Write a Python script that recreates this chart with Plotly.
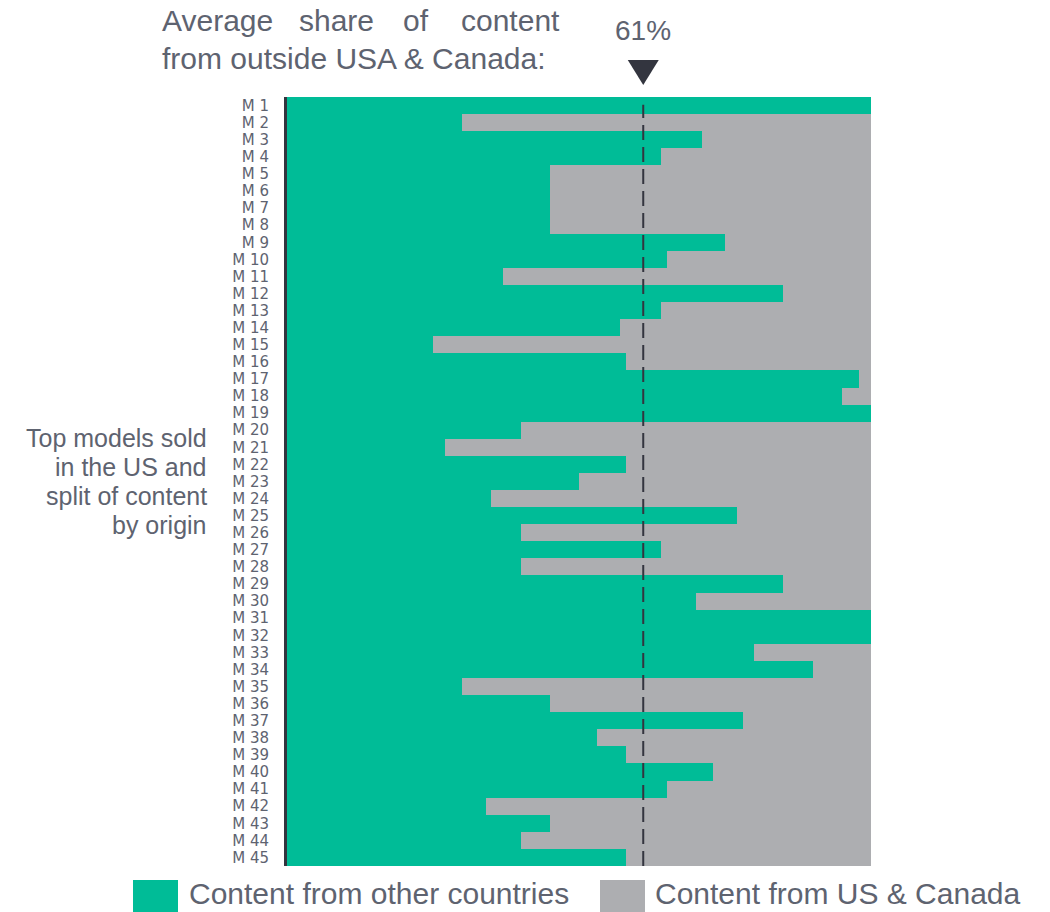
import plotly.graph_objects as go

models = [f"M {i}" for i in range(1, 46)]
other_share = [100, 30, 71, 64, 45, 45, 45, 45, 75, 65,
               37, 85, 64, 57, 25, 58, 98, 95, 100, 40,
               27, 58, 50, 35, 77, 40, 64, 40, 85, 70,
               100, 100, 80, 90, 30, 45, 78, 53, 58, 73,
               65, 34, 45, 40, 58]
us_share = [100 - v for v in other_share]
avg_share = 61

GREEN = "#00BC97"
GREY = "#ADAEB1"
DARK = "#33353F"
TEXT = "#5E6370"
FONT = "Liberation Sans, Arial, sans-serif"

fig = go.Figure()
fig.add_trace(go.Bar(y=models, x=other_share, orientation="h", name="Content from other countries",
                     marker=dict(color=GREEN, line=dict(width=0)), showlegend=False))
fig.add_trace(go.Bar(y=models, x=us_share, orientation="h", name="Content from US & Canada",
                     marker=dict(color=GREY, line=dict(width=0)), showlegend=False))

W, H = 1050, 912
L, R, T, B = 287, 1050 - 871, 97, 912 - 866
pw, ph = W - L - R, H - T - B


def px(x):
    return (x - L) / pw


def py(y):
    return (H - B - y) / ph


fig.update_layout(
    width=W, height=H,
    margin=dict(l=L, r=R, t=T, b=B),
    barmode="stack", bargap=0,
    plot_bgcolor="white", paper_bgcolor="white",
    font=dict(family=FONT, color=TEXT),
    xaxis=dict(range=[0, 100], showticklabels=False, showgrid=False, zeroline=False, showline=False),
    yaxis=dict(categoryorder="array", categoryarray=models, autorange="reversed",
               tickmode="array", tickvals=models, ticktext=models,
               showgrid=False, zeroline=False, showline=True, linecolor=DARK, linewidth=3,
               ticks="", ticklabelstandoff=12,
               tickfont=dict(size=15, color=TEXT, family="DejaVu Sans, sans-serif")),
)

# average line
fig.add_shape(type="line", xref="x", yref="paper", x0=avg_share, x1=avg_share, y0=0, y1=0.99,
              line=dict(color=DARK, width=2, dash="15px,7px"))
# triangle marker
fig.add_shape(type="path", xref="x", yref="paper",
              path=f"M {avg_share-2.65},{py(60)} L {avg_share+2.65},{py(60)} L {avg_share},{py(85)} Z",
              fillcolor=DARK, line=dict(width=0))

ann = []
ann.append(dict(x=avg_share, xref="x", y=py(30), yref="paper", text="61%", showarrow=False,
                font=dict(size=28, color=TEXT), xanchor="center", yanchor="middle"))
# justified title line 1
for word, xpos, anchor in [("Average", 160, "left"), ("share", 297, "left"), ("of", 401, "left"),
                           ("content", 562, "right")]:
    ann.append(dict(x=px(xpos), xref="paper", y=py(20), yref="paper", text=word, showarrow=False,
                    font=dict(size=30, color=TEXT), xanchor=anchor, yanchor="middle"))
ann.append(dict(x=px(160), xref="paper", y=py(58), yref="paper", text="from outside USA & Canada:",
                showarrow=False, font=dict(size=30, color=TEXT), xanchor="left", yanchor="middle"))
# left label
for line, ypos in [("Top models sold", 438), ("in the US and", 467), ("split of content", 496),
                   ("by origin", 525)]:
    ann.append(dict(x=px(209), xref="paper", y=py(ypos), yref="paper", text=line, showarrow=False,
                    font=dict(size=25, color=TEXT), xanchor="right", yanchor="middle"))
# manual legend
fig.add_shape(type="rect", xref="paper", yref="paper", x0=px(133), x1=px(178), y0=py(880), y1=py(912),
              fillcolor=GREEN, line=dict(width=0))
fig.add_shape(type="rect", xref="paper", yref="paper", x0=px(600), x1=px(645), y0=py(880), y1=py(912),
              fillcolor=GREY, line=dict(width=0))
ann.append(dict(x=px(187), xref="paper", y=py(893), yref="paper", text="Content from other countries",
                showarrow=False, font=dict(size=30, color=TEXT), xanchor="left", yanchor="middle"))
ann.append(dict(x=px(653), xref="paper", y=py(893), yref="paper", text="Content from US & Canada",
                showarrow=False, font=dict(size=30, color=TEXT), xanchor="left", yanchor="middle"))
fig.update_layout(annotations=ann)

fig.write_html("out.html")
